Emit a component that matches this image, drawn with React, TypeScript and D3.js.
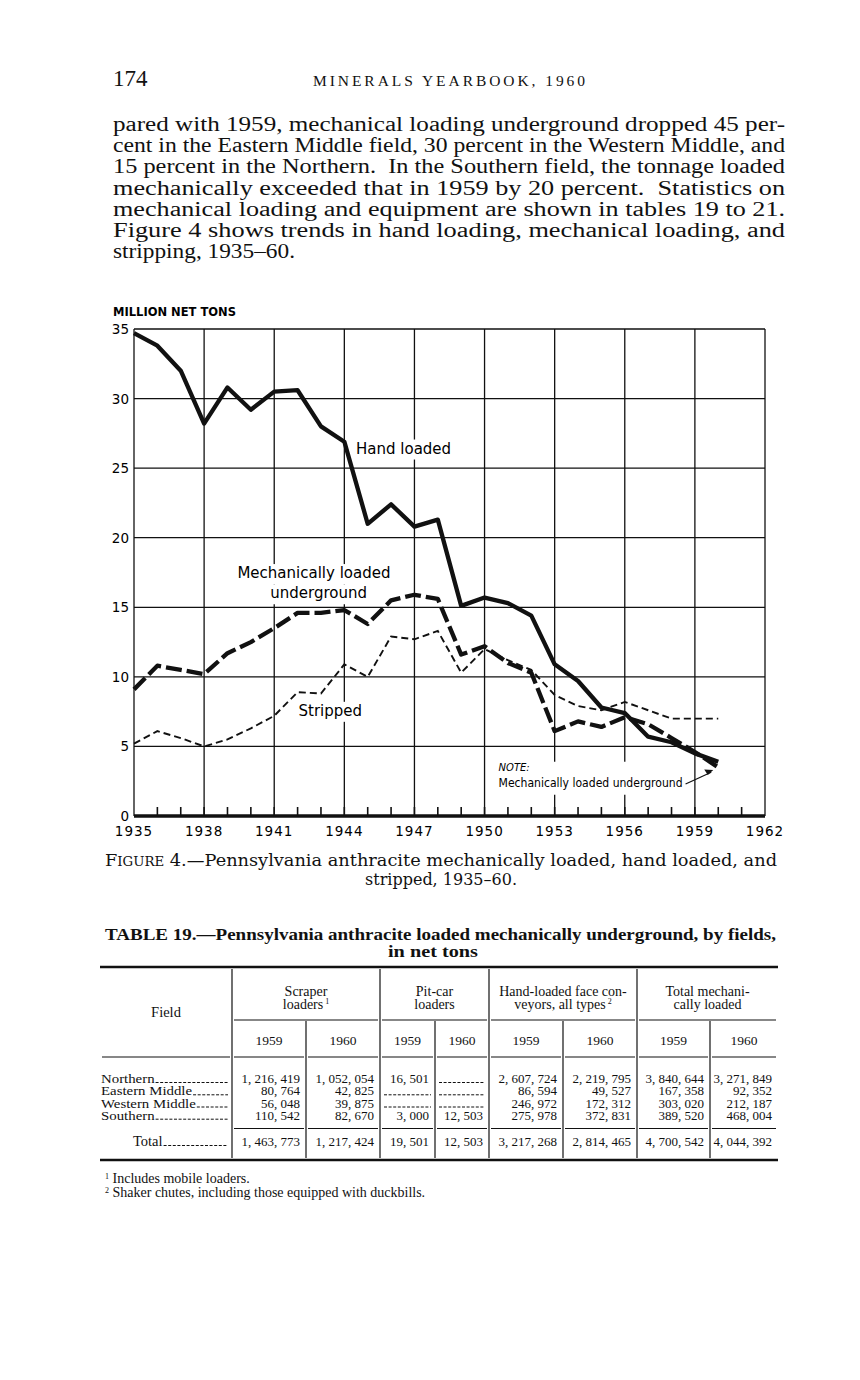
// @ts-nocheck
import React from 'react'
import * as d3 from 'd3'

// ---- chart data (million net tons) ----
const years = [1935, 1936, 1937, 1938, 1939, 1940, 1941, 1942, 1943, 1944, 1945, 1946, 1947,
    1948, 1949, 1950, 1951, 1952, 1953, 1954, 1955, 1956, 1957, 1958, 1959, 1960]
const handLoaded = [34.7, 33.8, 32.0, 28.2, 30.8, 29.2, 30.5, 30.6, 28.0, 26.9, 21.0, 22.4, 20.8,
    21.3, 15.1, 15.7, 15.3, 14.4, 10.9, 9.7, 7.8, 7.4, 5.7, 5.3, 4.5, 3.9]
const mechLoaded = [9.1, 10.8, 10.5, 10.2, 11.7, 12.5, 13.5, 14.6, 14.6, 14.8, 13.8, 15.5, 15.9,
    15.6, 11.6, 12.2, 11.0, 10.3, 6.1, 6.8, 6.4, 7.1, 6.6, 5.6, 4.6, 3.5]
const stripped = [5.2, 6.1, 5.6, 5.0, 5.5, 6.3, 7.2, 8.9, 8.8, 10.9, 10.0, 12.9, 12.7,
    13.3, 10.3, 12.0, 11.2, 10.5, 8.7, 7.9, 7.6, 8.2, 7.6, 7.0, 7.0, 7.0]
const yTicks = [0, 5, 10, 15, 20, 25, 30, 35]
const xLabelYears = [1935, 1938, 1941, 1944, 1947, 1950, 1953, 1956, 1959, 1962]

// ---- page text ----
const paragraph = [
    'pared with 1959, mechanical loading underground dropped 45 per-',
    'cent in the Eastern Middle field, 30 percent in the Western Middle, and',
    '15 percent in the Northern.  In the Southern field, the tonnage loaded',
    'mechanically exceeded that in 1959 by 20 percent.  Statistics on',
    'mechanical loading and equipment are shown in tables 19 to 21.',
    'Figure 4 shows trends in hand loading, mechanical loading, and',
    'stripping, 1935\u201360.',
]

// ---- table 19 data (net tons) ----
const fields = ['Northern', 'Eastern Middle', 'Western Middle', 'Southern']
const scraper1959 = [1216419, 80764, 56048, 110542]
const scraper1960 = [1052054, 42825, 39875, 82670]
const pitcar1959 = [16501, null, null, 3000]
const pitcar1960 = [null, null, null, 12503]
const conveyor1959 = [2607724, 86594, 246972, 275978]
const conveyor1960 = [2219795, 49527, 172312, 372831]
const totalMech1959 = [3840644, 167358, 303020, 389520]
const totalMech1960 = [3271849, 92352, 212187, 468004]
const columnTotals = [1463773, 1217424, 19501, 12503, 3217268, 2814465, 4700542, 4044392]
const groupHeads = [
    ['Scraper', 'loaders', '1'],
    ['Pit-car', 'loaders', ''],
    ['Hand-loaded face con-', 'veyors, all types', '2'],
    ['Total mechani-', 'cally loaded', ''],
]
const subYears = ['1959', '1960']
const footnotes = [['1', 'Includes mobile loaders.'], ['2', 'Shaker chutes, including those equipped with duckbills.']]

const SERIF = '"Liberation Serif", "DejaVu Serif", serif'
const SANS = '"DejaVu Sans", "Open Sans", sans-serif'

let ctx = null
const measure = (t, font) => {
    if (!ctx) ctx = document.createElement('canvas').getContext('2d')
    ctx.font = font
    return ctx.measureText(t).width
}
const fmt = v => d3.format(',')(v).replace(/,/g, ', ')

const Chart = () => {
    const x = d3.scaleLinear().domain([1935, 1962]).range([134, 765])
    const y = d3.scaleLinear().domain([0, 35]).range([816, 329])
    const line = d3.line().x((d, i) => x(years[i])).y(d => y(d))

    const labels = [
        { t: 'Hand loaded', x: x(1944.5), y: y(26.05), anchor: 'start', size: 15 },
        { t: 'Mechanically loaded', x: x(1942.7), y: y(17.1), anchor: 'middle', size: 15 },
        { t: 'underground', x: x(1942.9), y: y(15.65), anchor: 'middle', size: 15 },
        { t: 'Stripped', x: x(1943.4), y: y(7.2), anchor: 'middle', size: 15 },
    ]

    return <g>
        <text x={113} y={316} fontFamily={SANS} fontWeight="bold" fontSize={11.5}>MILLION NET TONS</text>
        {/* horizontal grid */}
        {yTicks.filter(v => v > 0).map(v =>
            <line key={'h' + v} x1={x(1935)} x2={x(1962)} y1={y(v)} y2={y(v)} stroke="#111" strokeWidth={1.3} />)}
        {/* vertical grid */}
        {xLabelYears.map(v =>
            <line key={'v' + v} x1={x(v)} x2={x(v)} y1={y(35)} y2={y(0)} stroke="#111" strokeWidth={1.3} />)}
        {/* label knockouts */}
        {labels.map(l => {
            const w = measure(l.t, `${l.size}px "DejaVu Sans"`)
            const x0 = l.anchor === 'middle' ? l.x - w / 2 : l.x
            return <rect key={'r' + l.t} x={x0 - 3} y={l.y - l.size + 1} width={w + 6} height={l.size + 5} fill="#fff" />
        })}
        <rect x={x(1950.5)} y={y(3.9)} width={190} height={33} fill="#fff" />
        {/* series */}
        <path d={line(stripped)} fill="none" stroke="#111" strokeWidth={1.9} strokeDasharray="7 4" />
        <path d={line(mechLoaded)} fill="none" stroke="#111" strokeWidth={4.3} strokeDasharray="16 5" strokeLinejoin="round" />
        <path d={line(handLoaded)} fill="none" stroke="#111" strokeWidth={4.3} strokeLinejoin="round" />
        {/* x axis */}
        <line x1={x(1935)} x2={x(1962)} y1={y(0)} y2={y(0)} stroke="#111" strokeWidth={3.5} />
        {d3.range(1936, 1962).map(v =>
            <line key={'t' + v} x1={x(v)} x2={x(v)} y1={y(0)} y2={y(0) - 9} stroke="#111" strokeWidth={1.6} />)}
        {xLabelYears.map(v =>
            <text key={'xl' + v} x={x(v)} y={836} textAnchor="middle" fontFamily={SANS} fontSize={13.5}
                letterSpacing={1}>{v}</text>)}
        {yTicks.map(v =>
            <text key={'yl' + v} x={129} y={y(v) + 5} textAnchor="end" fontFamily={SANS} fontSize={13.5}>{v}</text>)}
        {labels.map(l =>
            <text key={'l' + l.t} x={l.x} y={l.y} textAnchor={l.anchor} fontFamily={SANS} fontSize={l.size}>{l.t}</text>)}
        {/* note */}
        <text x={x(1950.6)} y={y(3.2)} fontFamily={SANS} fontStyle="italic" fontSize={10}>NOTE:</text>
        <text x={x(1950.6)} y={y(2.05)} fontFamily={SANS} fontSize={12} textLength={184} lengthAdjust="spacingAndGlyphs">Mechanically loaded underground</text>
        <line x1={x(1950.6) + 187} y1={y(2.3)} x2={x(1960) - 7} y2={y(3.15)} stroke="#111" strokeWidth={1.2} />
        <path d={`M${x(1960) - 5},${y(3.3)} l-9,-0.5 l3.5,5.5 z`} fill="#111" />
    </g>
}

const Table = () => {
    const vFull = [232, 380, 489, 637]
    const vSub = [306, 435, 563, 710]
    const colBounds = [[232, 306], [306, 380], [380, 435], [435, 489], [489, 563], [563, 637], [637, 710], [710, 778]]
    const groupBounds = [[232, 380], [380, 489], [489, 637], [637, 778]]
    const cols = [scraper1959, scraper1960, pitcar1959, pitcar1960, conveyor1959, conveyor1960, totalMech1959, totalMech1960]
    const rowY = [1083, 1095.3, 1107.5, 1119.7]
    const numSize = 12
    const fieldSize = 12
    const fieldFont = `14px "Liberation Serif"`
    return <g fontFamily={SERIF} fill="#111">
        <text x={105} y={940} fontWeight="bold" fontSize={16.5} textLength={671} lengthAdjust="spacingAndGlyphs">
            TABLE 19.{'\u2014'}Pennsylvania anthracite loaded mechanically underground, by fields,</text>
        <text x={433} y={957} fontWeight="bold" fontSize={16.5} textAnchor="middle" textLength={90} lengthAdjust="spacingAndGlyphs">in net tons</text>
        <line x1={100} x2={778} y1={967} y2={967} stroke="#111" strokeWidth={2.6} />
        <line x1={100} x2={778} y1={1160} y2={1160} stroke="#111" strokeWidth={2.6} />
        {vFull.map(v => <line key={'vf' + v} x1={v} x2={v} y1={969} y2={1158} stroke="#111" strokeWidth={1.2} />)}
        {vSub.map(v => <line key={'vs' + v} x1={v} x2={v} y1={1021} y2={1158} stroke="#111" strokeWidth={1.2} />)}
        {groupBounds.map(([a, b]) => <line key={'g' + a} x1={a + 2} x2={b - 2} y1={1020} y2={1020} stroke="#111" strokeWidth={1.2} />)}
        {[[100, 232], ...colBounds].map(([a, b]) => <line key={'yu' + a} x1={a + 2} x2={b - 2} y1={1057} y2={1057} stroke="#111" strokeWidth={1.2} />)}
        {colBounds.map(([a, b]) => <line key={'su' + a} x1={a + 2} x2={b - 2} y1={1128.5} y2={1128.5} stroke="#111" strokeWidth={1.2} />)}
        <text x={166} y={1017} textAnchor="middle" fontSize={14.5}>Field</text>
        {groupHeads.map(([l1, l2, sup], i) => {
            const cx = (groupBounds[i][0] + groupBounds[i][1]) / 2
            return <g key={'gh' + i} fontSize={14}>
                <text x={cx} y={996} textAnchor="middle">{l1}</text>
                <text x={cx} y={1008.5} textAnchor="middle">{l2}{sup ? <tspan fontSize={8} dy={-5}>{' ' + sup}</tspan> : null}</text>
            </g>
        })}
        {colBounds.map(([a, b], i) =>
            <text key={'yr' + i} x={(a + b) / 2} y={1045} textAnchor="middle" fontSize={13.5}>{subYears[i % 2]}</text>)}
        {fields.map((f, r) => {
            const w = measure(f, fieldFont) * 1.06
            return <g key={'f' + f}>
                <text x={101} y={rowY[r]} fontSize={fieldSize} textLength={w} lengthAdjust="spacingAndGlyphs">{f}</text>
                <line x1={101 + w + 1} x2={228} y1={rowY[r] - 0.5} y2={rowY[r] - 0.5} stroke="#111" strokeWidth={1} strokeDasharray="3 1.6" />
            </g>
        })}
        {cols.map((col, c) => col.map((v, r) => {
            if (v == null) {
                return <line key={'d' + c + r} x1={colBounds[c][0] + 4} x2={colBounds[c][1] - 4} y1={rowY[r] - 0.5} y2={rowY[r] - 0.5}
                    stroke="#111" strokeWidth={1} strokeDasharray="3 1.6" />
            }
            const s = fmt(v)
            return <text key={'n' + c + r} x={colBounds[c][1] - 6} y={rowY[r]} textAnchor="end" fontSize={numSize}
                textLength={measure(s, '13px "Liberation Serif"')} lengthAdjust="spacingAndGlyphs">{s}</text>
        }))}
        <text x={133} y={1146} fontSize={14.5}>Total</text>
        <line x1={133 + measure('Total', '14.5px "Liberation Serif"') + 1} x2={228} y1={1145.5} y2={1145.5} stroke="#111" strokeWidth={1} strokeDasharray="3 1.6" />
        {columnTotals.map((v, c) =>
            <text key={'t' + c} x={colBounds[c][1] - 6} y={1146} textAnchor="end" fontSize={13}>{fmt(v)}</text>)}
        {footnotes.map(([s, t], i) =>
            <text key={'fn' + i} x={105} y={1183 + i * 13.5} fontSize={14}>
                <tspan fontSize={8} dy={-4}>{s}</tspan><tspan dy={4}>{' ' + t}</tspan></text>)}
    </g>
}

const App = () => {
    return <div style={{ position: 'absolute', left: 0, top: 0 }}>
        <svg width={860} height={1380} style={{ display: 'block', background: '#fff' }}>
            <g fontFamily={SERIF} fill="#111">
                <text x={113} y={86} fontSize={23}>174</text>
                <text x={313} y={86} fontSize={15.5} textLength={272} lengthAdjust="spacing">MINERALS YEARBOOK, 1960</text>
                {paragraph.map((t, i) =>
                    <text key={'p' + i} x={113} y={131 + i * 21.2} fontSize={20}
                        textLength={i < paragraph.length - 1 ? 672 : 182}
                        lengthAdjust="spacingAndGlyphs" style={{ whiteSpace: 'pre' }}>{t}</text>)}
                <text x={105} y={866} fontSize={16} fontFamily='"DejaVu Serif", serif' textLength={672} lengthAdjust="spacingAndGlyphs">
                    F<tspan fontSize={12}>IGURE</tspan> 4.{'\u2014'}Pennsylvania anthracite mechanically loaded, hand loaded, and</text>
                <text x={441} y={885} fontSize={16} fontFamily='"DejaVu Serif", serif' textAnchor="middle">stripped, 1935{'\u2013'}60.</text>
            </g>
            <Chart />
            <Table />
        </svg>
    </div>
}

export default App
